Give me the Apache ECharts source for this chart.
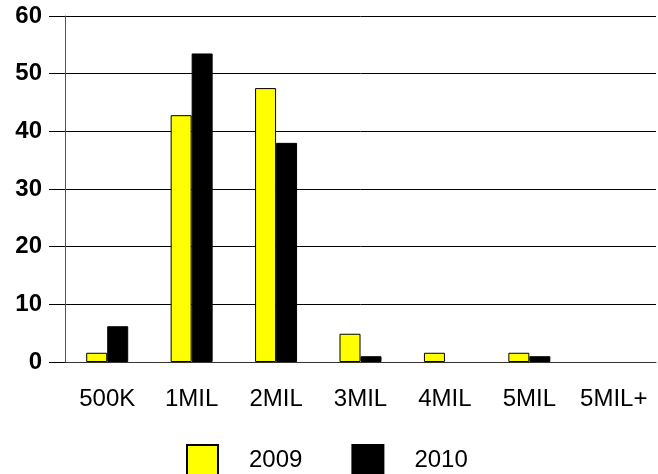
<!DOCTYPE html>
<html>
<head>
<meta charset="utf-8">
<script src="https://cdn.jsdelivr.net/npm/echarts@6/dist/echarts.min.js"></script>
<style>
html,body{margin:0;padding:0;background:#fff;}
#chart{width:658px;height:474px;}
</style>
</head>
<body>
<div id="chart"></div>
<script>
var categories = ['500K', '1MIL', '2MIL', '3MIL', '4MIL', '5MIL', '5MIL+'];
var values2009 = [1.6, 42.8, 47.5, 4.9, 1.6, 1.6, 0];
var values2010 = [6.2, 53.5, 38.0, 1.0, 0, 1.0, 0];
var seriesNames = ['2009', '2010'];
var yTicks = { min: 0, max: 60, interval: 10 };

function noZero(arr) { return arr.map(function (v) { return v === 0 ? '-' : v; }); }

var chart = echarts.init(document.getElementById('chart'));
var font = '"Liberation Sans", Arial, sans-serif';
chart.setOption({
  animation: false,
  grid: { left: 65, right: 2, top: 16, bottom: 112, containLabel: false },
  legend: {
    data: seriesNames,
    left: 186,
    top: 444,
    padding: 0,
    itemWidth: 31,
    itemHeight: 30,
    itemGap: 49,
    icon: 'rect',
    textStyle: { fontFamily: font, fontSize: 24, color: '#000', padding: [0, 0, 0, 26] }
  },
  xAxis: [{
    type: 'category',
    data: categories,
    axisLine: { lineStyle: { color: '#333', width: 1 } },
    axisTick: { alignWithLabel: true, length: 12, lineStyle: { color: '#000' } },
    axisLabel: { fontFamily: font, fontSize: 24, color: '#000', margin: 25, interval: 0 },
    splitLine: { show: false }
  }, {
    type: 'category',
    data: categories,
    position: 'bottom',
    axisLine: { show: false },
    axisTick: { length: 3, lineStyle: { color: '#000' } },
    axisLabel: { show: false },
    splitLine: { show: false }
  }],
  yAxis: {
    type: 'value',
    min: yTicks.min,
    max: yTicks.max,
    interval: yTicks.interval,
    axisLine: { show: true, lineStyle: { color: '#555' } },
    axisTick: { show: true, length: 16, lineStyle: { color: '#000' } },
    axisLabel: { fontFamily: font, fontSize: 24, fontWeight: 'bold', color: '#000', margin: 23 },
    splitLine: { lineStyle: { color: '#000', width: 1 } }
  },
  series: [{
    name: seriesNames[0],
    type: 'bar',
    data: noZero(values2009),
    barWidth: 21,
    barGap: '0%',
    itemStyle: { color: '#FFFF00', borderColor: '#000', borderWidth: 1 }
  }, {
    name: seriesNames[1],
    type: 'bar',
    data: noZero(values2010),
    barWidth: 21,
    itemStyle: { color: '#000', borderColor: '#000', borderWidth: 1 }
  }]
});
</script>
</body>
</html>
